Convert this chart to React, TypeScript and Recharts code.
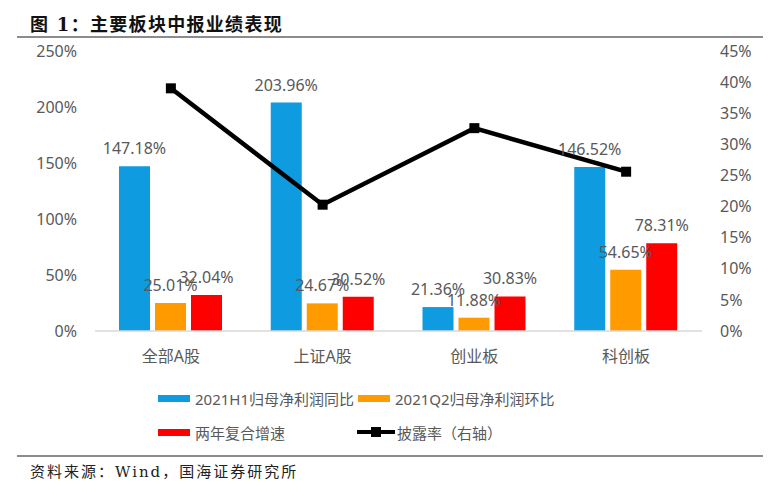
import React from 'react';
import {
  Bar,
  ComposedChart,
  LabelList,
  Line,
  XAxis,
  YAxis,
} from 'recharts';

const categories = ['全部A股', '上证A股', '创业板', '科创板'];
const h1Yoy = [147.18, 203.96, 21.36, 146.52];
const q2Qoq = [25.01, 24.67, 11.88, 54.65];
const twoYearCagr = [32.04, 30.52, 30.83, 78.31];
const disclosureRate = [39.0, 20.3, 32.6, 25.6];

const leftTicks = [0, 50, 100, 150, 200, 250];
const rightTicks = [0, 5, 10, 15, 20, 25, 30, 35, 40, 45];

const BLUE = '#0E9BE0';
const ORANGE = '#FF9A00';
const RED = '#FF0000';
const GRAY = '#595959';
const FONT = "'Noto Sans', 'Noto Sans CJK SC', sans-serif";
const SERIF = "'DejaVu Serif', 'Noto Sans CJK SC', serif";

const data = categories.map((name, i) => ({
  name,
  h1: h1Yoy[i],
  q2: q2Qoq[i],
  cagr: twoYearCagr[i],
  rate: disclosureRate[i],
}));

const pct = (v: number) => `${Number(v).toFixed(2)}%`;

function SquareDot(props: { cx?: number; cy?: number }) {
  const { cx, cy } = props;
  if (cx == null || cy == null) return null;
  return <rect x={cx - 5} y={cy - 5} width={10} height={10} fill="#000" />;
}

const tickStyle = { fill: GRAY, fontSize: 16, fontFamily: FONT };
const labelStyle = { fill: GRAY, fontSize: 16, fontFamily: FONT };

function LegendItem({ x, y, color, line, label }: { x: number; y: number; color: string; line?: boolean; label: string }) {
  return (
    <div style={{ position: 'absolute', left: x, top: y - 10, height: 20, display: 'flex', alignItems: 'center' }}>
      {line ? (
        <div style={{ position: 'relative', width: 38, height: 20, marginRight: 2 }}>
          <div style={{ position: 'absolute', left: 0, top: 8, width: 38, height: 4, background: '#000' }} />
          <div style={{ position: 'absolute', left: 14, top: 5, width: 10, height: 10, background: '#000' }} />
        </div>
      ) : (
        <div style={{ width: 32, height: 7, background: color, marginRight: 5 }} />
      )}
      <span style={{ fontFamily: FONT, fontSize: 15, color: GRAY, whiteSpace: 'nowrap' }}>{label}</span>
    </div>
  );
}

export default function App() {
  return (
    <div style={{ position: 'absolute', left: 0, top: 0, width: 776, height: 489, background: '#fff', overflow: 'hidden' }}>
      <div style={{ position: 'absolute', left: 30, top: 10, fontFamily: SERIF, fontWeight: 'bold', fontSize: 18, letterSpacing: 1.3, color: '#111', whiteSpace: 'nowrap' }}>
        图 1：主要板块中报业绩表现
      </div>
      <div style={{ position: 'absolute', left: 17, top: 36, width: 746, height: 2, background: '#8C8C8C' }} />

      <div style={{ position: 'absolute', left: 0, top: 0 }}>
        <ComposedChart
          width={776}
          height={380}
          data={data}
          margin={{ top: 51, right: 24, left: 35, bottom: 9 }}
          barGap={5}
        >
          <XAxis
            dataKey="name"
            height={40}
            tickLine={false}
            tickSize={0}
            tickMargin={20}
            axisLine={{ stroke: '#D9D9D9', strokeWidth: 1.5 }}
            tick={tickStyle}
          />
          <YAxis
            yAxisId="left"
            width={60}
            domain={[0, 250]}
            ticks={leftTicks}
            tickFormatter={(v) => `${v}%`}
            axisLine={false}
            tickLine={false}
            tickSize={0}
            tickMargin={18}
            tick={tickStyle}
          />
          <YAxis
            yAxisId="right"
            orientation="right"
            width={50}
            domain={[0, 45]}
            ticks={rightTicks}
            tickFormatter={(v) => `${v}%`}
            axisLine={false}
            tickLine={false}
            tickSize={0}
            tickMargin={18}
            tick={tickStyle}
          />
          <Bar yAxisId="left" dataKey="h1" fill={BLUE} barSize={31} isAnimationActive={false}>
            <LabelList dataKey="h1" position="top" offset={12} formatter={pct} style={labelStyle} />
          </Bar>
          <Bar yAxisId="left" dataKey="q2" fill={ORANGE} barSize={31} isAnimationActive={false}>
            <LabelList dataKey="q2" position="top" offset={12} formatter={pct} style={labelStyle} />
          </Bar>
          <Bar yAxisId="left" dataKey="cagr" fill={RED} barSize={31} isAnimationActive={false}>
            <LabelList dataKey="cagr" position="top" offset={12} formatter={pct} style={labelStyle} />
          </Bar>
          <Line
            yAxisId="right"
            dataKey="rate"
            stroke="#000"
            strokeWidth={4.5}
            dot={<SquareDot />}
            activeDot={false}
            isAnimationActive={false}
          />
        </ComposedChart>
      </div>

      <LegendItem x={158} y={398} color={BLUE} label="2021H1归母净利润同比" />
      <LegendItem x={358} y={398} color={ORANGE} label="2021Q2归母净利润环比" />
      <LegendItem x={158} y={432} color={RED} label="两年复合增速" />
      <LegendItem x={357} y={432} color="#000" line label="披露率（右轴）" />

      <div style={{ position: 'absolute', left: 17, top: 455, width: 746, height: 2, background: '#8C8C8C' }} />
      <div style={{ position: 'absolute', left: 30, top: 460, fontFamily: SERIF, fontSize: 15, letterSpacing: 2, color: '#222', whiteSpace: 'nowrap' }}>
        资料来源：Wind，国海证券研究所
      </div>
    </div>
  );
}
